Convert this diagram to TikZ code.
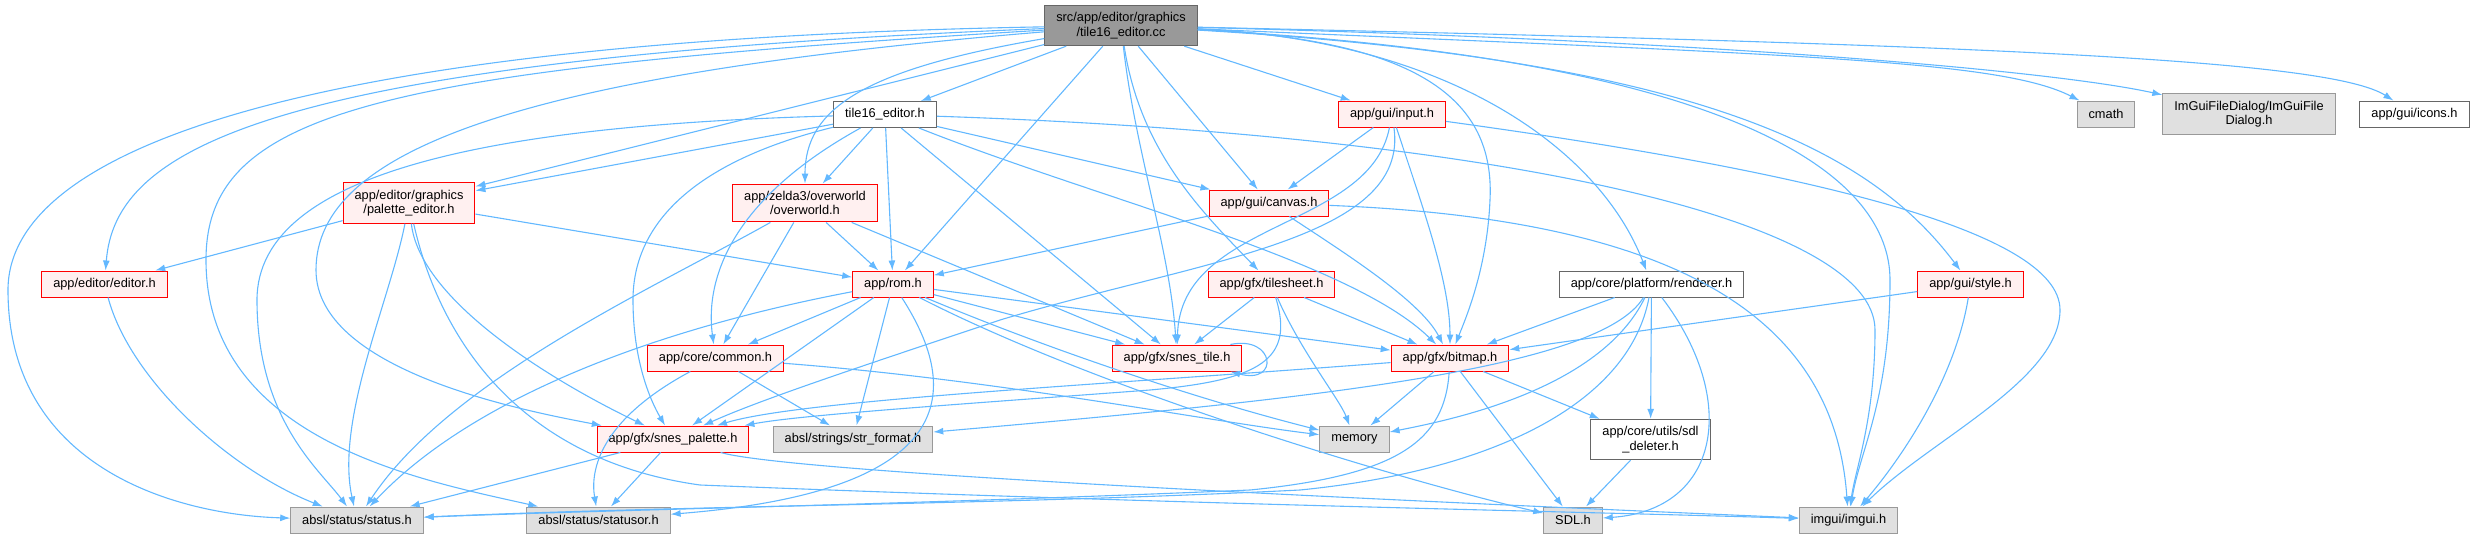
\documentclass[tikz,border=0pt]{standalone}
\usepackage{fontspec}
\setmainfont{Liberation Sans}
\usepackage{tikz}
\usetikzlibrary{arrows.meta}
\definecolor{edgeblue}{RGB}{99,184,255}
\definecolor{rootgray}{RGB}{153,153,153}
\definecolor{darkgray}{RGB}{102,102,102}
\definecolor{sysgray}{RGB}{224,224,224}
\definecolor{midgray}{RGB}{153,153,153}
\definecolor{pinkfill}{RGB}{255,240,240}
\definecolor{borderred}{RGB}{255,0,0}

\begin{document}
\begin{tikzpicture}[x=1pt, y=-1pt,
  file/.style={rectangle, line width=1pt, align=center, inner xsep=11.5pt, inner ysep=7pt,
               minimum height=26pt, font=\fontsize{12.8}{14.5}\selectfont},
  rootfile/.style={file, draw=darkgray, fill=rootgray},
  redfile/.style={file, draw=borderred, fill=pinkfill},
  plainfile/.style={file, draw=darkgray, fill=white},
  sysfile/.style={file, draw=midgray, fill=sysgray},
  dep/.style={-{Latex[length=10pt,width=7pt]}, draw=edgeblue, line width=1.1pt}
]
  \useasboundingbox (0,0) rectangle (2474,538);

  \node[rootfile] (cc) at (1121,25.5) {src/app/editor/graphics\\/tile16\_editor.cc};
  \node[plainfile] (th) at (885,114.5) {tile16\_editor.h};
  \node[redfile] (in) at (1392,114) {app/gui/input.h};
  \node[sysfile] (cm) at (2106,114) {cmath};
  \node[sysfile] (fd) at (2249,114) {ImGuiFileDialog/ImGuiFile\\Dialog.h};
  \node[plainfile] (ic) at (2414.5,114) {app/gui/icons.h};
  \node[redfile] (pe) at (409,203) {app/editor/graphics\\/palette\_editor.h};
  \node[redfile] (ow) at (805,203) {app/zelda3/overworld\\/overworld.h};
  \node[redfile] (cv) at (1269,203) {app/gui/canvas.h};
  \node[redfile] (ed) at (104.5,284) {app/editor/editor.h};
  \node[redfile] (rom) at (893,284) {app/rom.h};
  \node[redfile] (ts) at (1271.5,284) {app/gfx/tilesheet.h};
  \node[plainfile] (rd) at (1651.5,284) {app/core/platform/renderer.h};
  \node[redfile] (sy) at (1970.5,284) {app/gui/style.h};
  \node[redfile] (cmn) at (715.5,358) {app/core/common.h};
  \node[redfile] (st) at (1177,358) {app/gfx/snes\_tile.h};
  \node[redfile] (bm) at (1450,358) {app/gfx/bitmap.h};
  \node[redfile] (sp) at (673,439) {app/gfx/snes\_palette.h};
  \node[sysfile] (sf) at (853,439) {absl/strings/str\_format.h};
  \node[sysfile] (mem) at (1354.5,439) {memory};
  \node[plainfile] (sdd) at (1650.5,439.5) {app/core/utils/sdl\\\_deleter.h};
  \node[sysfile] (status) at (357,520) {absl/status/status.h};
  \node[sysfile] (so) at (598.5,520) {absl/status/statusor.h};
  \node[sysfile] (sdl) at (1573,520) {SDL.h};
  \node[sysfile] (ig) at (1848.5,520) {imgui/imgui.h};

  % tile16_editor.cc
  \draw[dep] (cc) -- (th);
  \draw[dep] (cc) .. controls (300,40) and (8,150) .. (8,290) .. controls (8,470) and (180,515) .. (status);
  \draw[dep] (cc) .. controls (260,60) and (115,150) .. (ed);
  \draw[dep] (cc) .. controls (380,70) and (206,110) .. (206,260) .. controls (206,440) and (420,480) .. (so);
  \draw[dep] (cc) .. controls (520,75) and (316,150) .. (316,270) .. controls (316,370) and (520,410) .. (sp);
  \draw[dep] (cc) -- (pe);
  \draw[dep] (cc) .. controls (860,70) and (805,110) .. (ow);
  \draw[dep] (cc) -- (rom);
  \draw[dep] (cc) .. controls (1135,150) and (1170,250) .. (st);
  \draw[dep] (cc) .. controls (1140,150) and (1200,210) .. (ts);
  \draw[dep] (cc) -- (cv);
  \draw[dep] (cc) -- (in);
  \draw[dep] (cc) .. controls (1420,40) and (1495,100) .. (1490,200) .. controls (1487,270) and (1465,320) .. (bm);
  \draw[dep] (cc) .. controls (1450,40) and (1600,150) .. (rd);
  \draw[dep] (cc) .. controls (1700,60) and (1870,150) .. (sy);
  \draw[dep] (cc) .. controls (1750,60) and (1890,180) .. (1890,280) .. controls (1890,400) and (1860,450) .. (ig);
  \draw[dep] (cc) .. controls (1800,55) and (2000,60) .. (cm);
  \draw[dep] (cc) .. controls (1700,40) and (2050,70) .. (fd);
  \draw[dep] (cc) .. controls (2000,45) and (2330,60) .. (ic);

  % tile16_editor.h
  \draw[dep] (th) .. controls (500,125) and (257,170) .. (257,300) .. controls (257,420) and (320,470) .. (status);
  \draw[dep] (th) -- (pe);
  \draw[dep] (th) .. controls (700,160) and (633,220) .. (633,300) .. controls (633,360) and (650,400) .. (sp);
  \draw[dep] (th) .. controls (730,200) and (705,280) .. (cmn);
  \draw[dep] (th) -- (ow);
  \draw[dep] (th) -- (rom);
  \draw[dep] (th) -- (st);
  \draw[dep] (th) .. controls (1100,200) and (1350,260) .. (bm);
  \draw[dep] (th) -- (cv);
  \draw[dep] (th) .. controls (1500,135) and (1875,220) .. (1875,330) .. controls (1875,420) and (1855,470) .. (ig);

  \draw[dep] (pe) -- (ed);
  \draw[dep] (pe) .. controls (390,300) and (335,420) .. (status);
  \draw[dep] (pe) .. controls (420,300) and (550,380) .. (sp);
  \draw[dep] (pe) .. controls (440,340) and (520,460) .. (700,485) .. controls (1200,505) and (1600,512) .. (ig);
  \draw[dep] (pe) -- (rom);

  \draw[dep] (ow) .. controls (650,290) and (450,380) .. (status);
  \draw[dep] (ow) -- (cmn);
  \draw[dep] (ow) -- (rom);
  \draw[dep] (ow) -- (st);

  \draw[dep] (ed) .. controls (130,380) and (230,470) .. (status);

  % app/rom.h
  \draw[dep] (rom) -- (cmn);
  \draw[dep] (rom) .. controls (650,330) and (470,400) .. (status);
  \draw[dep] (rom) -- (sp);
  \draw[dep] (rom) -- (sf);
  \draw[dep] (rom) .. controls (955,380) and (975,490) .. (so);
  \draw[dep] (rom) -- (st);
  \draw[dep] (rom) -- (bm);
  \draw[dep] (rom) .. controls (1050,350) and (1200,400) .. (mem);
  \draw[dep] (rom) .. controls (1100,390) and (1400,480) .. (sdl);

  \draw[dep] (cv) -- (rom);
  \draw[dep] (cv) .. controls (1340,250) and (1420,300) .. (bm);
  \draw[dep] (cv) .. controls (1700,220) and (1835,330) .. (ig);

  \draw[dep] (in) -- (cv);
  \draw[dep] (in) .. controls (1370,230) and (1180,220) .. (st);
  \draw[dep] (in) .. controls (1410,240) and (1200,260) .. (1000,320) .. controls (850,370) and (760,400) .. (sp);
  \draw[dep] (in) .. controls (1420,200) and (1450,280) .. (bm);
  \draw[dep] (in) .. controls (1800,170) and (2060,230) .. (2060,310) .. controls (2060,380) and (1930,440) .. (ig);

  \draw[dep] (ts) -- (st);
  \draw[dep] (ts) .. controls (1295,360) and (1260,380) .. (1150,390) .. controls (950,405) and (800,415) .. (sp);
  \draw[dep] (ts) .. controls (1300,350) and (1340,400) .. (mem);
  \draw[dep] (ts) -- (bm);

  % renderer.h
  \draw[dep] (rd) -- (bm);
  \draw[dep] (rd) .. controls (1600,390) and (1450,420) .. (mem);
  \draw[dep] (rd) .. controls (1600,370) and (1300,400) .. (sf);
  \draw[dep] (rd) .. controls (1630,400) and (1500,470) .. (1300,490) .. controls (1000,505) and (700,505) .. (status);
  \draw[dep] (rd) -- (sdd);
  \draw[dep] (rd) .. controls (1740,400) and (1720,510) .. (sdl);

  \draw[dep] (sy) -- (bm);
  \draw[dep] (sy) .. controls (1955,380) and (1900,460) .. (ig);

  \draw[dep] (cmn) .. controls (600,420) and (590,470) .. (so);
  \draw[dep] (cmn) -- (sf);
  \draw[dep] (cmn) .. controls (1000,380) and (1200,420) .. (mem);

  \draw[dep] ([xshift=-12pt]st.north east) .. controls (1275,335) and (1280,385) .. ([xshift=-12pt]st.south east);

  % bitmap.h
  \draw[dep] (bm) -- (mem);
  \draw[dep] (bm) -- (sdl);
  \draw[dep] (bm) -- (sdd);
  \draw[dep] (bm) .. controls (1100,385) and (800,400) .. (sp);
  \draw[dep] (bm) .. controls (1445,440) and (1400,475) .. (1250,490) .. controls (900,505) and (600,510) .. (status);

  \draw[dep] (sp) -- (status);
  \draw[dep] (sp) -- (so);
  \draw[dep] (sp) .. controls (800,475) and (1500,505) .. (ig);

  \draw[dep] (sdd) -- (sdl);
\end{tikzpicture}
\end{document}
